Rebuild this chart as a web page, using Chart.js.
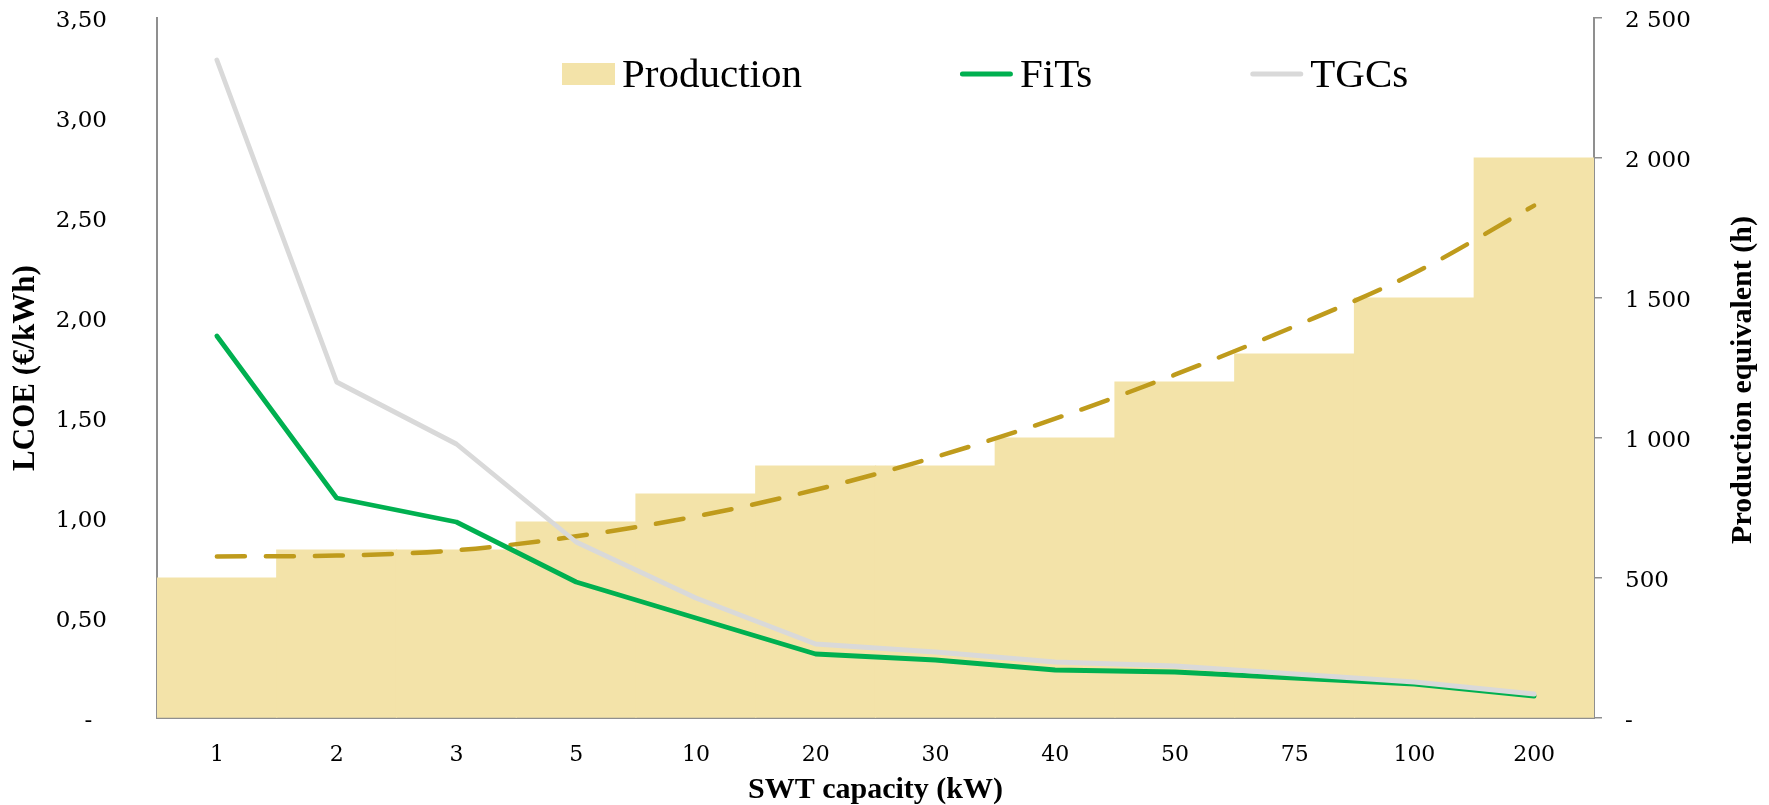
<!DOCTYPE html>
<html>
<head>
<meta charset="utf-8">
<script src="https://cdn.jsdelivr.net/npm/chart.js@4.4.1/dist/chart.umd.min.js"></script>
<style>
  html, body { margin: 0; padding: 0; background: #ffffff; }
  #wrap { width: 1769px; height: 805px; }
</style>
</head>
<body>
<div id="wrap"><canvas id="chart" width="1769" height="805"></canvas></div>
<script>
// SWT capacity classes (kW)
const capacities = ['1', '2', '3', '5', '10', '20', '30', '40', '50', '75', '100', '200'];
// Production equivalent hours (right axis)
const productionHours = [500, 600, 600, 700, 800, 900, 900, 1000, 1200, 1300, 1500, 2000];
// Polynomial trend of the production hours (right axis)
const productionTrend = [577, 580, 599, 649, 720, 815, 932, 1069, 1226, 1399, 1589, 1830];
// LCOE under feed-in tariffs (€/kWh, left axis)
const lcoeFiTs = [1.91, 1.10, 0.98, 0.68, 0.50, 0.32, 0.29, 0.24, 0.23, 0.20, 0.17, 0.11];
// LCOE under tradable green certificates (€/kWh, left axis)
const lcoeTGCs = [3.29, 1.68, 1.37, 0.88, 0.60, 0.37, 0.33, 0.28, 0.26, 0.22, 0.18, 0.12];

const seriesNames = ['Production', 'FiTs', 'TGCs'];
const xTitle = 'SWT capacity (kW)';
const yLeftTitle = 'LCOE (€/kWh)';
const yRightTitle = 'Production equivalent (h)';

const axisGrey = '#8f8f8f';
const tickFont = { family: '"DejaVu Serif", serif', size: 23 };
const xTickFont = { family: '"DejaVu Serif", serif', size: 22 };
const titleFont = { family: '"Liberation Serif", serif', size: 31, weight: 'bold', lineHeight: 1.2 };
const xTitleFont = { family: '"Liberation Serif", serif', size: 30, weight: 'bold', lineHeight: 1.0 };

// Legend drawn on top of the plot area, in one row
const inlineLegend = {
  id: 'inlineLegend',
  afterDraw(chart, args, opts) {
    const ctx = chart.ctx;
    ctx.save();
    ctx.font = opts.font;
    ctx.textBaseline = 'middle';
    ctx.textAlign = 'left';
    let x = opts.x;
    const y = opts.y;
    chart.data.datasets.forEach(ds => {
      if (ds.inLegend === false) return;
      if (ds.type === 'bar') {
        ctx.fillStyle = ds.backgroundColor;
        ctx.fillRect(x, y - opts.boxHeight / 2, opts.markerWidth, opts.boxHeight);
      } else {
        ctx.strokeStyle = ds.borderColor;
        ctx.lineWidth = opts.lineWidth;
        ctx.lineCap = 'round';
        ctx.beginPath();
        ctx.moveTo(x + opts.lineWidth / 2, y);
        ctx.lineTo(x + opts.markerWidth - opts.lineWidth / 2, y);
        ctx.stroke();
      }
      x += opts.markerWidth + opts.gap;
      ctx.fillStyle = '#000000';
      ctx.fillText(ds.label, x, y + opts.textShift);
      x += ctx.measureText(ds.label).width + opts.spacing;
    });
    ctx.restore();
  }
};

// Right-axis title reading bottom-to-top
const rightAxisTitle = {
  id: 'rightAxisTitle',
  afterDraw(chart, args, opts) {
    const ctx = chart.ctx;
    const area = chart.chartArea;
    ctx.save();
    ctx.translate(chart.width - opts.offset, (area.top + area.bottom) / 2 + opts.shift);
    ctx.rotate(-Math.PI / 2);
    ctx.font = 'bold 30px "Liberation Serif", serif';
    ctx.fillStyle = '#000000';
    ctx.textAlign = 'center';
    ctx.textBaseline = 'middle';
    ctx.fillText(opts.text, 0, 0);
    ctx.restore();
  }
};

const formatLcoe = v => (v === 0 ? '-  ' : v.toFixed(2).replace('.', ','));
const formatHours = v => (v === 0 ? '-' : String(v).replace(/\B(?=(\d{3})+(?!\d))/g, ' '));

// Vertical axes keep a fixed width and do not push the plot area down
const fixVertical = width => s => {
  s.width = width;
  s.paddingTop = 0;
  s.paddingBottom = 0;
};

new Chart(document.getElementById('chart'), {
  data: {
    labels: capacities,
    datasets: [
      {
        type: 'bar',
        label: seriesNames[0],
        data: productionHours,
        yAxisID: 'y2',
        backgroundColor: '#F3E3A9',
        borderWidth: 0,
        categoryPercentage: 1.0,
        barPercentage: 1.0,
        inflateAmount: 0.6,
        order: 4
      },
      {
        type: 'line',
        label: seriesNames[1],
        data: lcoeFiTs,
        yAxisID: 'y',
        borderColor: '#00B050',
        borderWidth: 4.8,
        borderCapStyle: 'round',
        borderJoinStyle: 'round',
        pointRadius: 0,
        tension: 0,
        fill: false,
        order: 2
      },
      {
        type: 'line',
        label: seriesNames[2],
        data: lcoeTGCs,
        yAxisID: 'y',
        borderColor: '#D9D9D9',
        borderWidth: 4.8,
        borderCapStyle: 'round',
        borderJoinStyle: 'round',
        pointRadius: 0,
        tension: 0,
        fill: false,
        order: 1
      },
      {
        type: 'line',
        label: 'Trend',
        inLegend: false,
        data: productionTrend,
        yAxisID: 'y2',
        borderColor: '#BF9B1C',
        borderWidth: 4.5,
        borderDash: [28, 21],
        borderCapStyle: 'round',
        pointRadius: 0,
        cubicInterpolationMode: 'monotone',
        fill: false,
        order: 3
      }
    ]
  },
  options: {
    responsive: false,
    devicePixelRatio: 1,
    animation: false,
    layout: { padding: { top: 18, left: 0, right: 0, bottom: 0 } },
    plugins: {
      legend: { display: false },
      tooltip: { enabled: false },
      inlineLegend: {
        x: 562, y: 74, markerWidth: 53, boxHeight: 22, lineWidth: 5,
        gap: 7, spacing: 158, textShift: 2, font: '41px "Liberation Serif", serif'
      },
      rightAxisTitle: { text: yRightTitle, offset: 26, shift: 12 }
    },
    scales: {
      x: {
        type: 'category',
        offset: true,
        z: 1,
        grid: { display: false, drawTicks: false },
        border: { display: true, color: axisGrey, width: 2 },
        ticks: { font: xTickFont, color: '#000000', padding: 24, maxRotation: 0, autoSkip: false },
        title: { display: true, text: xTitle, font: xTitleFont, color: '#000000', padding: 0 },
        afterFit: s => { s.height = 87; }
      },
      y: {
        position: 'left',
        min: 0,
        max: 3.5,
        z: 1,
        grid: { display: false, drawTicks: false },
        border: { display: true, color: axisGrey, width: 2 },
        ticks: { stepSize: 0.5, callback: formatLcoe, font: tickFont, color: '#000000', padding: 50, labelOffset: 3 },
        title: { display: true, text: yLeftTitle, font: titleFont, color: '#000000', padding: { top: 7, bottom: 0 } },
        afterFit: fixVertical(157)
      },
      y2: {
        position: 'right',
        min: 0,
        max: 2500,
        z: 1,
        grid: { display: true, drawOnChartArea: false, drawTicks: true, tickLength: 8, color: axisGrey, lineWidth: 1.5 },
        border: { display: true, color: axisGrey, width: 2 },
        ticks: { stepSize: 500, callback: formatHours, font: tickFont, color: '#000000', padding: 23, labelOffset: 3 },
        afterFit: fixVertical(175)
      }
    }
  },
  plugins: [inlineLegend, rightAxisTitle]
});
</script>
</body>
</html>
